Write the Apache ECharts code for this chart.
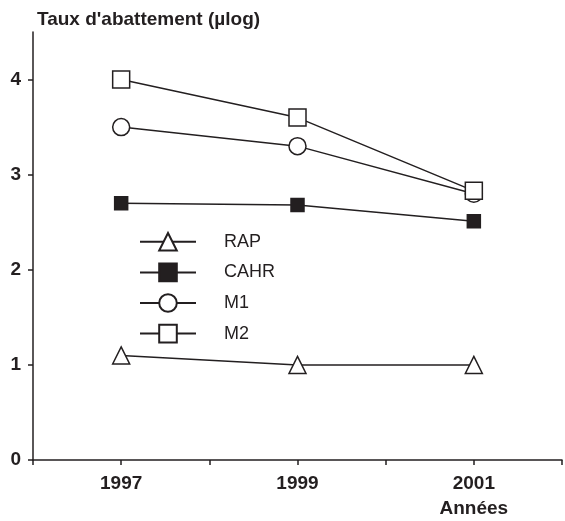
<!DOCTYPE html>
<html>
<head>
<meta charset="utf-8">
<script src="https://cdn.jsdelivr.net/npm/echarts@6/dist/echarts.min.js"></script>
<style>
  html, body { margin: 0; padding: 0; background: #fff; }
  #chart { width: 565px; height: 521px; }
</style>
</head>
<body>
<div id="chart"></div>
<script>
const years = [1997, 1999, 2001];
const rap = [1.1, 1.0, 1.0];
const cahr = [2.7, 2.68, 2.51];
const m1 = [3.5, 3.3, 2.8];
const m2 = [4.0, 3.6, 2.83];
const yTicks = [0, 1, 2, 3, 4];
const xLabels = { 1997: '1997', 1999: '1999', 2001: '2001\nAnnées' };

const ink = '#231f20';
const font = "'Liberation Sans', Arial, sans-serif";

function pairs(vals) {
    return years.map((y, i) => [y, vals[i]]);
}

function line(name, vals, symbol, size, filled) {
    return {
        name: name,
        type: 'line',
        data: pairs(vals),
        symbol: symbol,
        symbolSize: size,
        showAllSymbol: true,
        lineStyle: { color: ink, width: 1.5 },
        itemStyle: { color: filled ? ink : '#fff', borderColor: ink, borderWidth: 1.5 },
        emphasis: { disabled: true }
    };
}

const chart = echarts.init(document.getElementById('chart'));
chart.setOption({
    animation: false,
    grid: { left: 33, right: 0, top: 32, bottom: 60 },
    legend: {
        orient: 'vertical',
        left: 134,
        top: 227,
        itemWidth: 56,
        itemHeight: 22,
        itemGap: 11,
        textStyle: { fontFamily: font, fontSize: 18, color: ink, padding: [0, 0, 0, 23] },
        data: ['RAP', 'CAHR', 'M1', 'M2']
    },
    xAxis: {
        type: 'value',
        min: 1996,
        max: 2002,
        interval: 1,
        splitLine: { show: false },
        axisLine: { lineStyle: { color: ink, width: 1.5 } },
        axisTick: { lineStyle: { color: ink, width: 1.5 }, length: 5 },
        axisLabel: {
            color: ink, fontFamily: font, fontWeight: 'bold', fontSize: 19, margin: 11,
            lineHeight: 25,
            formatter: v => xLabels[v] || ''
        }
    },
    yAxis: {
        type: 'value',
        min: 0,
        max: 4.5,
        interval: 1,
        name: "Taux d'abattement (µlog)",
        nameLocation: 'end',
        nameGap: 3,
        nameTextStyle: { color: ink, fontFamily: font, fontWeight: 'bold', fontSize: 19, align: 'left', padding: [0, 0, 0, 4] },
        splitLine: { show: false },
        axisLine: { show: true, lineStyle: { color: ink, width: 1.5 } },
        axisTick: { show: true, lineStyle: { color: ink, width: 1.5 }, length: 5 },
        axisLabel: {
            color: ink, fontFamily: font, fontWeight: 'bold', fontSize: 19, margin: 12,
            showMaxLabel: false,
            formatter: v => yTicks.indexOf(v) >= 0 ? String(v) : ''
        }
    },
    series: [
        line('RAP', rap, 'triangle', 17, false),
        line('CAHR', cahr, 'rect', 13, true),
        line('M1', m1, 'circle', 17, false),
        line('M2', m2, 'rect', 17, false)
    ]
});
</script>
</body>
</html>
